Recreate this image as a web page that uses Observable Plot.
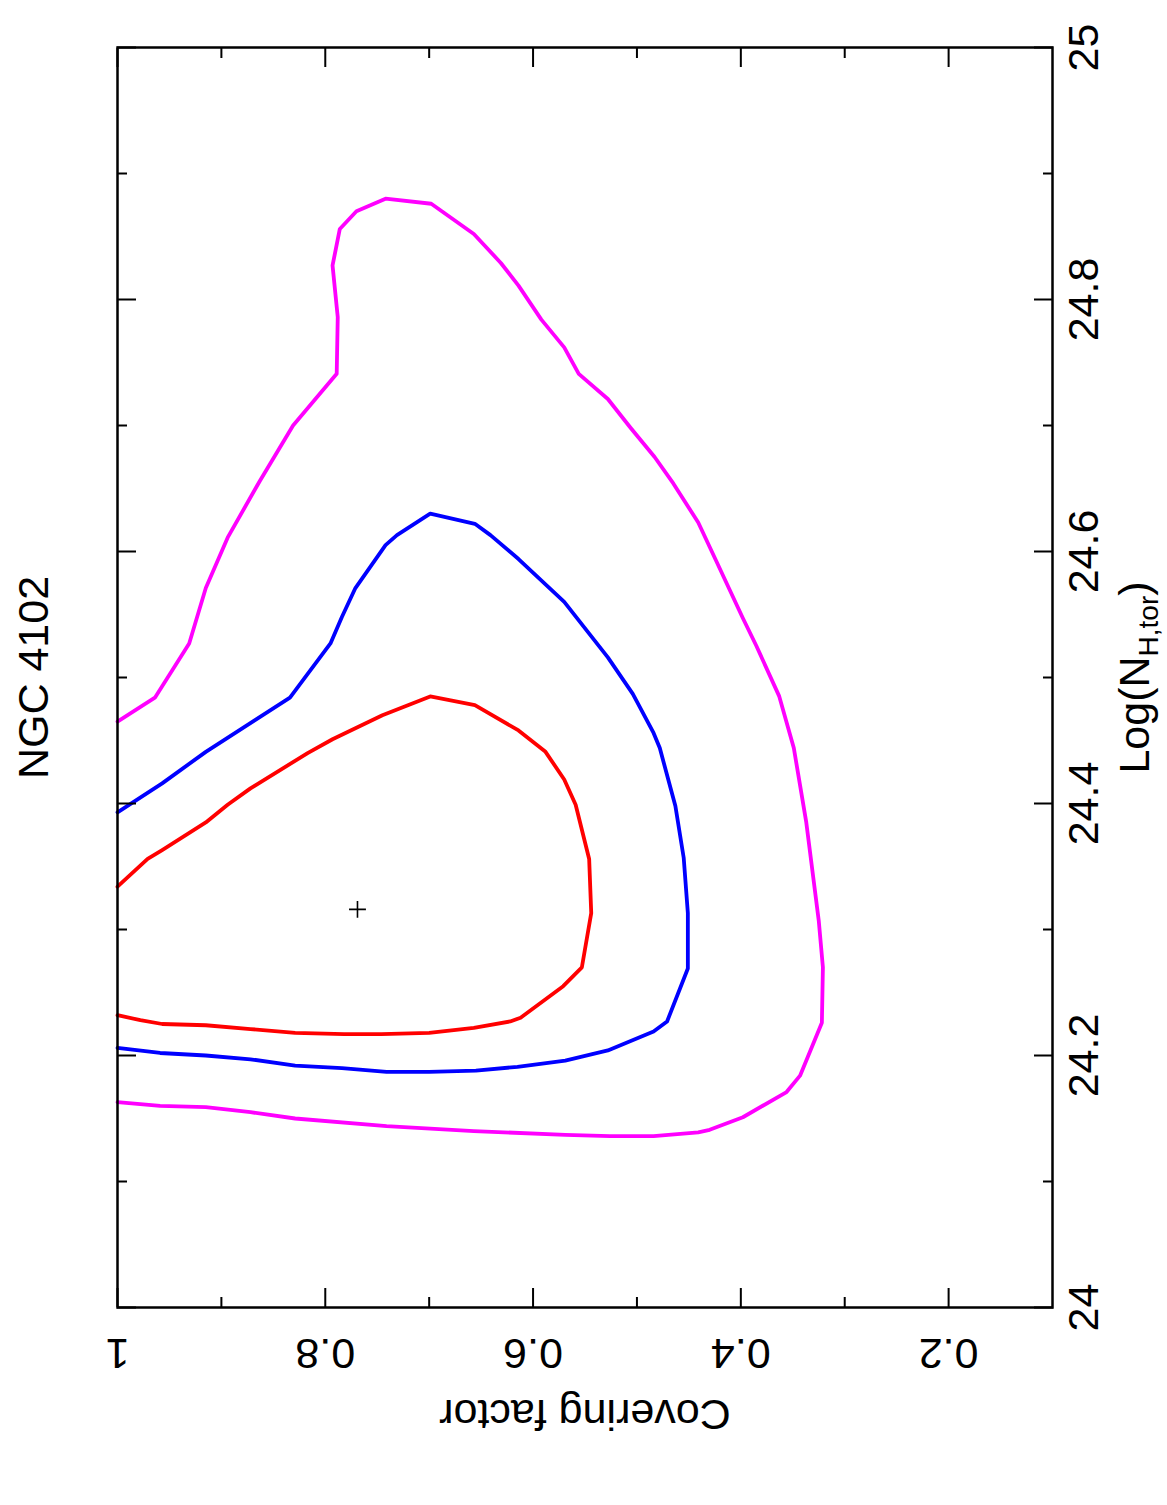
<!DOCTYPE html>
<html>
<head>
<meta charset="utf-8">
<script src="https://cdn.jsdelivr.net/npm/d3@7"></script>
<script src="https://cdn.jsdelivr.net/npm/@observablehq/plot@0.6"></script>
<style>
  html, body { margin: 0; padding: 0; background: #fff; }
  #chart svg { display: block; }
</style>
</head>
<body>
<div id="chart"></div>
<script>
// NGC 4102 torus fit: confidence contours of covering factor vs. log column density

const titleText = "NGC 4102";
const cfLabel = "Covering factor";
const nhLabelMain = "Log(N";
const nhLabelSub = "H,tor";
const nhLabelEnd = ")";

// Tick values
const cfMajor = [1, 0.8, 0.6, 0.4, 0.2];
const cfMinor = [0.9, 0.7, 0.5, 0.3];
const cfTickLabels = ["1", "0.8", "0.6", "0.4", "0.2"];
const nhMajor = [24, 24.2, 24.4, 24.6, 24.8, 25];
const nhMinor = [24.1, 24.3, 24.5, 24.7, 24.9];
const nhTickLabels = ["24", "24.2", "24.4", "24.6", "24.8", "25"];

// Best-fit point
const bestCf = [0.769];
const bestNh = [24.316];

// 68% contour (red)
const red68Cf = [1.000, 0.971, 0.957, 0.915, 0.894, 0.872, 0.817, 0.793, 0.745, 0.699,
  0.656, 0.614, 0.588, 0.570, 0.559, 0.546, 0.544, 0.553, 0.571, 0.612,
  0.622, 0.657, 0.700, 0.746, 0.782, 0.829, 0.872, 0.915, 0.957, 0.978, 1.000];
const red68Nh = [24.334, 24.356, 24.363, 24.385, 24.399, 24.412, 24.440, 24.451, 24.470, 24.485,
  24.478, 24.458, 24.441, 24.419, 24.399, 24.356, 24.313, 24.270, 24.255, 24.230,
  24.227, 24.222, 24.218, 24.217, 24.217, 24.218, 24.221, 24.224, 24.225, 24.228, 24.232];

// 90% contour (blue)
const blue90Cf = [1.000, 0.957, 0.915, 0.868, 0.834, 0.795, 0.784, 0.771, 0.742, 0.731,
  0.699, 0.656, 0.641, 0.614, 0.570, 0.528, 0.504, 0.484, 0.478, 0.463,
  0.455, 0.451, 0.451, 0.471, 0.484, 0.528, 0.569, 0.615, 0.655, 0.700,
  0.741, 0.784, 0.829, 0.872, 0.915, 0.959, 1.000];
const blue90Nh = [24.393, 24.416, 24.441, 24.466, 24.484, 24.527, 24.548, 24.571, 24.605, 24.613,
  24.630, 24.622, 24.613, 24.594, 24.560, 24.516, 24.487, 24.456, 24.444, 24.398,
  24.357, 24.313, 24.269, 24.227, 24.219, 24.204, 24.196, 24.191, 24.188, 24.187,
  24.187, 24.190, 24.192, 24.197, 24.200, 24.202, 24.206];

// 99% contour (magenta)
const mag99Cf = [1.000, 0.964, 0.931, 0.915, 0.894, 0.863, 0.831, 0.789, 0.788, 0.793,
  0.786, 0.770, 0.742, 0.698, 0.657, 0.631, 0.614, 0.592, 0.570, 0.556,
  0.528, 0.506, 0.483, 0.465, 0.441, 0.424, 0.398, 0.385, 0.363, 0.349,
  0.337, 0.325, 0.321, 0.322, 0.343, 0.356, 0.398, 0.430, 0.441, 0.484,
  0.526, 0.569, 0.657, 0.741, 0.829, 0.872, 0.915, 0.959, 1.000];
const mag99Nh = [24.465, 24.484, 24.527, 24.571, 24.611, 24.656, 24.700, 24.741, 24.786, 24.827,
  24.856, 24.870, 24.880, 24.876, 24.852, 24.829, 24.811, 24.784, 24.762, 24.741,
  24.721, 24.698, 24.675, 24.654, 24.623, 24.593, 24.547, 24.525, 24.485, 24.444,
  24.385, 24.307, 24.270, 24.226, 24.184, 24.171, 24.151, 24.141, 24.139, 24.136,
  24.136, 24.137, 24.140, 24.144, 24.150, 24.155, 24.159, 24.160, 24.163];

const toPoints = (cf, nh) => cf.map((c, i) => ({cf: c, nh: nh[i]}));

const contours = [
  {points: toPoints(mag99Cf, mag99Nh), color: "#ff00ff"},
  {points: toPoints(blue90Cf, blue90Nh), color: "#0000ff"},
  {points: toPoints(red68Cf, red68Nh), color: "#ff0000"}
];
const best = toPoints(bestCf, bestNh);

const FONT = 43;

const chart = Plot.plot({
  width: 1167,
  height: 1505,
  marginLeft: 117,
  marginRight: 115,
  marginTop: 47,
  marginBottom: 198,
  style: {
    background: "#fff",
    color: "#000",
    fontFamily: "'Liberation Sans', Arial, Helvetica, sans-serif"
  },
  x: {domain: [1, 0.1], axis: null},
  y: {domain: [24, 25], axis: null},
  marks: [
    ...contours.map(c => Plot.line(c.points, {
      x: "cf", y: "nh", stroke: c.color, strokeWidth: 3.8, strokeLinejoin: "round"
    })),
    Plot.dot(best, {x: "cf", y: "nh", symbol: "plus", r: 5.5, stroke: "#000", strokeWidth: 1.6}),

    // inward ticks on all four sides
    Plot.axisX({ticks: cfMajor, anchor: "bottom", tickSize: -19, tickFormat: () => "", label: null, strokeWidth: 2}),
    Plot.axisX({ticks: cfMinor, anchor: "bottom", tickSize: -10, tickFormat: () => "", label: null, strokeWidth: 2}),
    Plot.axisX({ticks: cfMajor, anchor: "top", tickSize: -19, tickFormat: () => "", label: null, strokeWidth: 2}),
    Plot.axisX({ticks: cfMinor, anchor: "top", tickSize: -10, tickFormat: () => "", label: null, strokeWidth: 2}),
    Plot.axisY({ticks: nhMajor, anchor: "left", tickSize: -19, tickFormat: () => "", label: null, strokeWidth: 2}),
    Plot.axisY({ticks: nhMinor, anchor: "left", tickSize: -10, tickFormat: () => "", label: null, strokeWidth: 2}),
    Plot.axisY({ticks: nhMajor, anchor: "right", tickSize: -19, tickFormat: () => "", label: null, strokeWidth: 2}),
    Plot.axisY({ticks: nhMinor, anchor: "right", tickSize: -10, tickFormat: () => "", label: null, strokeWidth: 2}),

    Plot.frame({stroke: "#000", strokeWidth: 2.5}),

    // tick labels: covering factor along the bottom (upside down), column density on the right
    Plot.text(cfMajor, {
      x: d => d, text: (d, i) => cfTickLabels[i], frameAnchor: "bottom", dy: 45,
      rotate: 180, fontSize: FONT, textAnchor: "middle", lineAnchor: "middle", fill: "#000"
    }),
    Plot.text(nhMajor, {
      y: d => d, text: (d, i) => nhTickLabels[i], frameAnchor: "right", dx: 32,
      rotate: -90, fontSize: FONT, textAnchor: "middle", lineAnchor: "middle", fill: "#000"
    }),

    // axis titles and plot title
    Plot.text([cfLabel], {
      frameAnchor: "bottom", dy: 106, rotate: 180, fontSize: FONT,
      textAnchor: "middle", lineAnchor: "middle", fill: "#000"
    }),
    Plot.text([nhLabelMain + nhLabelSub + nhLabelEnd], {
      frameAnchor: "right", dx: 83, rotate: -90, fontSize: FONT,
      textAnchor: "middle", lineAnchor: "middle", fill: "#000", ariaLabel: "nh-label"
    }),
    Plot.text([titleText], {
      frameAnchor: "left", dx: -83, rotate: -90, fontSize: FONT,
      textAnchor: "middle", lineAnchor: "middle", fill: "#000"
    })
  ]
});

// Subscript for the column-density label
const fullNhLabel = nhLabelMain + nhLabelSub + nhLabelEnd;
const nhText = Array.from(chart.querySelectorAll("text"))
  .find(t => t.textContent === fullNhLabel);
if (nhText) {
  const ns = "http://www.w3.org/2000/svg";
  while (nhText.firstChild) nhText.removeChild(nhText.firstChild);
  const t1 = document.createElementNS(ns, "tspan");
  t1.textContent = nhLabelMain;
  const t2 = document.createElementNS(ns, "tspan");
  t2.textContent = nhLabelSub;
  t2.setAttribute("font-size", "28");
  t2.setAttribute("dy", "9");
  const t3 = document.createElementNS(ns, "tspan");
  t3.textContent = nhLabelEnd;
  t3.setAttribute("dy", "-9");
  nhText.append(t1, t2, t3);
}

document.getElementById("chart").append(chart);
</script>
</body>
</html>
